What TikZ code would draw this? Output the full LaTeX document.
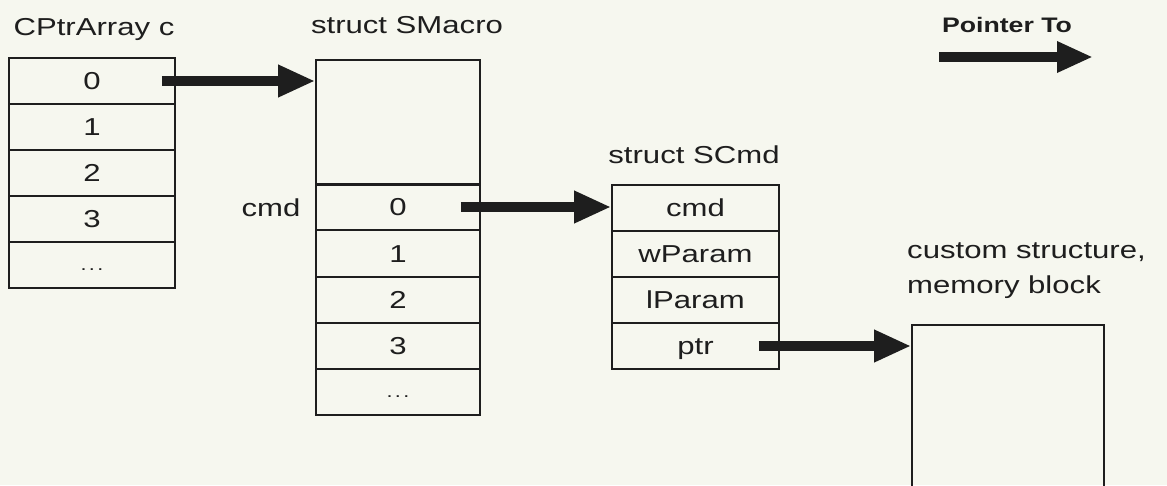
\documentclass[tikz,border=0pt]{standalone}
\usepackage{fontspec}
\setmainfont[FakeStretch=1.27]{Liberation Sans}
\usetikzlibrary{arrows.meta}
\definecolor{bg}{HTML}{F6F7EF}
\definecolor{ink}{HTML}{1E1E1E}
\begin{document}
\begin{tikzpicture}[x=1pt,y=-1pt,
  txt/.style={font=\fontsize{24.5}{28}\selectfont,text=ink,inner sep=0pt},
  cell/.style={txt,draw=ink,line width=1.6pt,minimum height=46pt,text height=17.5pt,text depth=0pt},
  cwa/.style={cell,minimum width=166pt},
  cwb/.style={cell,minimum width=164pt},
  cwc/.style={cell,minimum width=167pt},
  ptr/.style={draw=ink,line width=9.5pt,-{Triangle[length=37pt,width=30pt]}},
]
\newcommand{\celldots}{\raisebox{3pt}{\fontsize{17}{20}\selectfont .\kern2.5pt.\kern2.5pt.}}
\clip (0,0) rectangle (1167,485);
\fill[bg] (0,0) rectangle (1167,485);

% CPtrArray c
\node[txt,anchor=base] (tA) at (94,35) {CPtrArray c};
\node[cwa] (c0) at (92,81) {0};
\node[cwa] (c1) at (92,127) {1};
\node[cwa] (c2) at (92,173) {2};
\node[cwa] (c3) at (92,219) {3};
\node[cwa] (c4) at (92,265) {\celldots};

% struct SMacro
\node[txt,anchor=base] (tB) at (407,33) {struct SMacro};
\node[draw=ink,line width=1.6pt,minimum width=164pt,minimum height=124pt,inner sep=0pt] (mtop) at (398,122) {};
\node[cwb] (m0) at (398,207) {0};
\node[cwb] (m1) at (398,253.5) {1};
\node[cwb] (m2) at (398,300) {2};
\node[cwb] (m3) at (398,346) {3};
\node[cwb] (m4) at (398,392) {\celldots};
\draw[ink,line width=2.6pt] (mtop.south west) -- (mtop.south east);
\node[txt,text height=17.5pt,text depth=0pt] (lcmd) at (271,208) {cmd};

% struct SCmd
\node[txt,anchor=base] (tC) at (694,163) {struct SCmd};
\node[cwc] (s0) at (695.5,208) {cmd};
\node[cwc] (s1) at (695.5,254) {wParam};
\node[cwc] (s2) at (695.5,300) {lParam};
\node[cwc] (s3) at (695.5,346) {ptr};

% custom structure
\node[txt,anchor=base west] (tD1) at (907,258) {custom structure,};
\node[txt,anchor=base west] (tD2) at (907,293) {memory block};
\node[draw=ink,line width=1.6pt,minimum width=192pt,minimum height=220pt,inner sep=0pt,anchor=north] (mem) at (1008,324) {};

% legend
\node[txt,font=\fontsize{21}{24}\selectfont\bfseries,anchor=base] (tL) at (1007,32) {Pointer To};
\coordinate (lgA) at (939,57);
\coordinate (lgB) at (1093,57);

% pointers
\draw[ptr] ([xshift=-14pt]c0.east) -- (c0.east -| mtop.west);
\draw[ptr] ([xshift=-20pt]m0.east) -- (m0.east -| s0.west);
\draw[ptr] ([xshift=-21pt]s3.east) -- (s3.east -| mem.west);
\draw[ptr,-{Triangle[length=36pt,width=29pt]}] (lgA) -- (lgB);
\end{tikzpicture}
\end{document}
